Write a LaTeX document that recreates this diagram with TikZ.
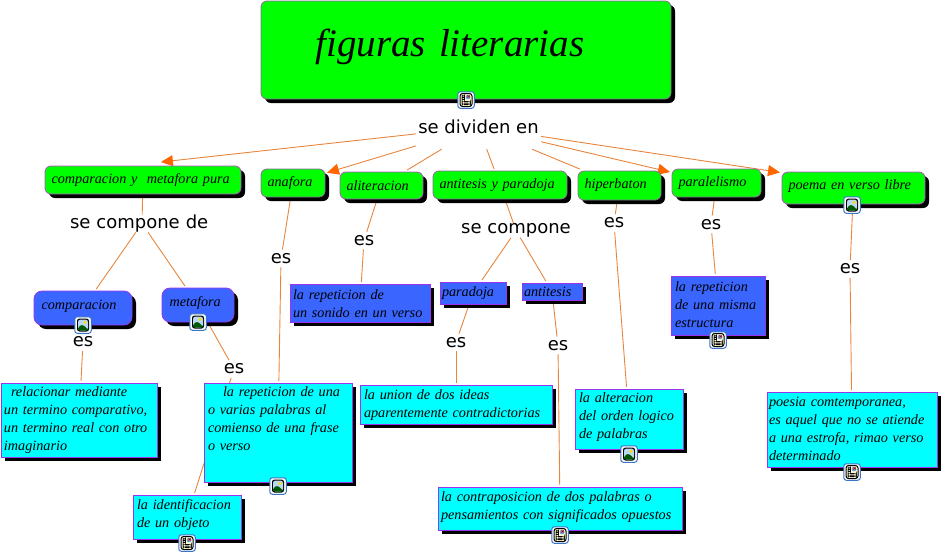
\documentclass[tikz,border=0pt]{standalone}
\usepackage{fontspec}
\setmainfont{Liberation Serif}
\newfontfamily\linkfont{DejaVu Sans}
\usetikzlibrary{arrows.meta,shadows,backgrounds}
\definecolor{conncol}{HTML}{E8853D}
\definecolor{tipcol}{HTML}{FF6600}
\definecolor{gborder}{HTML}{8F6A9C}
\definecolor{pborder}{HTML}{B050C8}
\definecolor{vborder}{HTML}{9933EE}
\definecolor{bluefill}{HTML}{3A66FF}
\definecolor{cyanfill}{HTML}{00FFFF}
\definecolor{greenfill}{HTML}{00FF00}
\definecolor{iconblue}{HTML}{3B74C4}
\definecolor{iconsky}{HTML}{B9D8F2}
\definecolor{iconpaper}{HTML}{FFFFD8}
\tikzset{
  box/.style={draw=vborder, line width=.8pt, outer sep=2pt, inner ysep=0pt, inner xsep=4pt, align=left,
    font=\fontsize{14.2}{18.2}\selectfont\itshape,
    drop shadow={opacity=1, fill=black, shadow xshift=4pt, shadow yshift=-4pt}},
  dim/.style n args={3}{text width=#1, text height=#2, text depth=#3},
  gbox/.style={box, fill=greenfill, draw=gborder, rounded corners=6pt, inner xsep=6.5pt},
  rbox/.style={box, fill=bluefill, rounded corners=8pt, inner xsep=7.5pt},
  sbox/.style={box, fill=bluefill},
  cbox/.style={box, fill=cyanfill},
  link/.style={font=\linkfont\fontsize{18}{20}\selectfont, inner xsep=1pt, inner ysep=0pt},
  esnode/.style={link, inner ysep=3.5pt},
  conn/.style={draw=conncol, line width=.9pt},
  tipconn/.style={conn, -{Triangle[length=12pt,width=11pt,color=tipcol]}},
  iconbox/.style={draw=iconblue, line width=1pt, fill=white, rounded corners=2.5pt, minimum size=16.5pt, inner sep=0pt},
  imgicon/.style={iconbox, path picture={
    \begin{scope}[shift={(path picture bounding box.center)}]
    \fill[black] (-6,-6.5) rectangle (6,6.5);
    \fill[iconsky] (-5,-5.5) rectangle (5,5.5);
    \fill[yellow!80!orange] (2,-2.6) circle (1.7);
    \fill[green!35!black] (-5,5.5) -- (-5,2.4) -- (-1,-.8) -- (5,4.2) -- (5,5.5) -- cycle;
    \end{scope}}},
  docicon/.style={iconbox, path picture={
    \begin{scope}[shift={(path picture bounding box.center)}]
    \draw[black, line width=1pt, fill=iconpaper] (-6,-6.5) rectangle (6,6.5);
    \foreach \y in {-4.6,-2.8,-1} \fill[black] (-4.2,\y) rectangle (-1.2,\y+.9);
    \fill[iconblue!70] (-.5,-5.2) rectangle (4.5,-.6);
    \fill[red!70!black] (1.6,-4.4) rectangle (3.6,-2.8);
    \foreach \y in {1,2.7,4.2} \fill[black] (-4.2,\y) rectangle (4.5,\y+.9);
    \end{scope}}}
}
\begin{document}
\begin{tikzpicture}[x=1pt,y=-1pt]
\useasboundingbox (0,0) rectangle (942,555);
% concepts
\node[gbox, dim={397pt}{55pt}{43pt}, font=\fontsize{39}{44}\selectfont\itshape] (titulo) at (466,50) {\hspace*{48pt}figuras literarias};
\node[gbox, draw=pborder, dim={183pt}{17pt}{11pt}] (compmeta) at (143,180) {comparacion y\ \ metafora pura};
\node[gbox, dim={51pt}{17pt}{11pt}] (anafora) at (293,183) {anafora};
\node[gbox, draw=pborder, dim={70pt}{18pt}{9pt}] (aliter) at (381.5,185.5) {aliteracion};
\node[gbox, dim={121pt}{17.5pt}{10.5pt}] (antipara) at (500,185) {antitesis y paradoja};
\node[gbox, dim={70pt}{17.5pt}{11.5pt}] (hiper) at (619.5,185.5) {hiperbaton};
\node[gbox, dim={76pt}{17pt}{11pt}] (parale) at (716.5,183) {paralelismo};
\node[gbox, draw=pborder, dim={130pt}{17pt}{15pt}] (poema) at (853.5,188) {poema en verso libre};
\node[rbox, dim={83pt}{18pt}{16pt}] (comp) at (83,308) {comparacion};
\node[rbox, dim={57pt}{18pt}{16pt}] (meta) at (198,305) {metafora};
\node[sbox, dim={134pt}{15pt}{23pt}, inner xsep=3pt] (sonido) at (360,303) {la repeticion de\\un sonido en un verso};
\node[sbox, dim={62pt}{14pt}{8pt}, inner xsep=2pt] (para) at (473,293) {paradoja};
\node[sbox, dim={56pt}{13pt}{4pt}, inner xsep=2pt] (anti) at (552,291.5) {antitesis};
\node[sbox, dim={86pt}{15pt}{44pt}] (estruc) at (718,305.5) {la repeticion\\de una misma\\estructura};
\node[cbox, dim={150pt}{13pt}{61pt}, inner xsep=3pt] (relac) at (79,420) {\hspace*{7pt}relacionar mediante\\un termino comparativo,\\un termino real con otro\\imaginario};
\node[cbox, dim={140pt}{13pt}{86pt}] (repet) at (278,432.5) {\hspace*{15pt}la repeticion de una\\o varias palabras al\\comienso de una frase\\o verso};
\node[cbox, dim={100pt}{14pt}{30pt}] (ident) at (187,517) {la identificacion\\de un objeto};
\node[cbox, dim={184pt}{14pt}{25pt}] (union) at (456,404.5) {la union de dos ideas\\aparentemente contradictorias};
\node[cbox, dim={100pt}{13pt}{47pt}] (alter) at (629,419) {la alteracion\\del orden logico\\de palabras};
\node[cbox, dim={238pt}{14pt}{29pt}, inner xsep=3pt] (contra) at (560,508.5) {la contraposicion de dos palabras o\\pensamientos con significados opuestos};
\node[cbox, dim={166pt}{14pt}{61pt}, inner xsep=2pt] (poesia) at (852,429.5) {poesia comtemporanea,\\es aquel que no se atiende\\a una estrofa, rimao verso\\determinado};
% linking phrases
\node[link, minimum width=125pt, minimum height=44pt] (dividen) at (478.5,127) {se dividen en};
\node[link, text width=144pt, align=left] (compde) at (142,223.5) {se compone de};
\node[link] (compone) at (516,230.5) {se compone};
\foreach \n/\x/\y in {esa/83/342, esb/234/369, esc/281/258.5, esd/364/240.5, ese/456/342.5,
  esf/558/345.5, esg/614/223, esh/711/224.5, esi/850/269}
  \node[esnode] (\n) at (\x,\y) {es};
% connectors stay under the boxes
\begin{scope}[on background layer]
\foreach \a/\b in {dividen/aliter, dividen/antipara, dividen/hiper,
  compmeta/compde, compde/comp, compde/meta, comp/esa, esa/relac, meta/esb, esb/ident,
  anafora/esc, esc/repet, aliter/esd, esd/sonido, antipara/compone, compone/para, compone/anti,
  para/ese, ese/union, anti/esf, esf/contra, hiper/esg, esg/alter, parale/esh, esh/estruc,
  poema/esi, esi/poesia}
  \draw[conn] (\a) -- (\b);
\draw[tipconn, shorten >=18pt] (dividen) -- (compmeta.north);
\draw[tipconn] (dividen) -- (anafora);
\draw[tipconn] (dividen) -- (parale);
\draw[tipconn] (dividen) -- (poema.168);
\end{scope}
% icons
\foreach \n/\x/\y in {icoa/83/325, icob/198/322, icoc/278/486, icod/629/454, icoe/852/205}
  \node[imgicon] (\n) at (\x,\y) {};
\foreach \n/\x/\y in {icof/466/100, icog/187/543, icoh/560/535, icoi/718/340, icoj/852/472}
  \node[docicon] (\n) at (\x,\y) {};
\end{tikzpicture}
\end{document}
